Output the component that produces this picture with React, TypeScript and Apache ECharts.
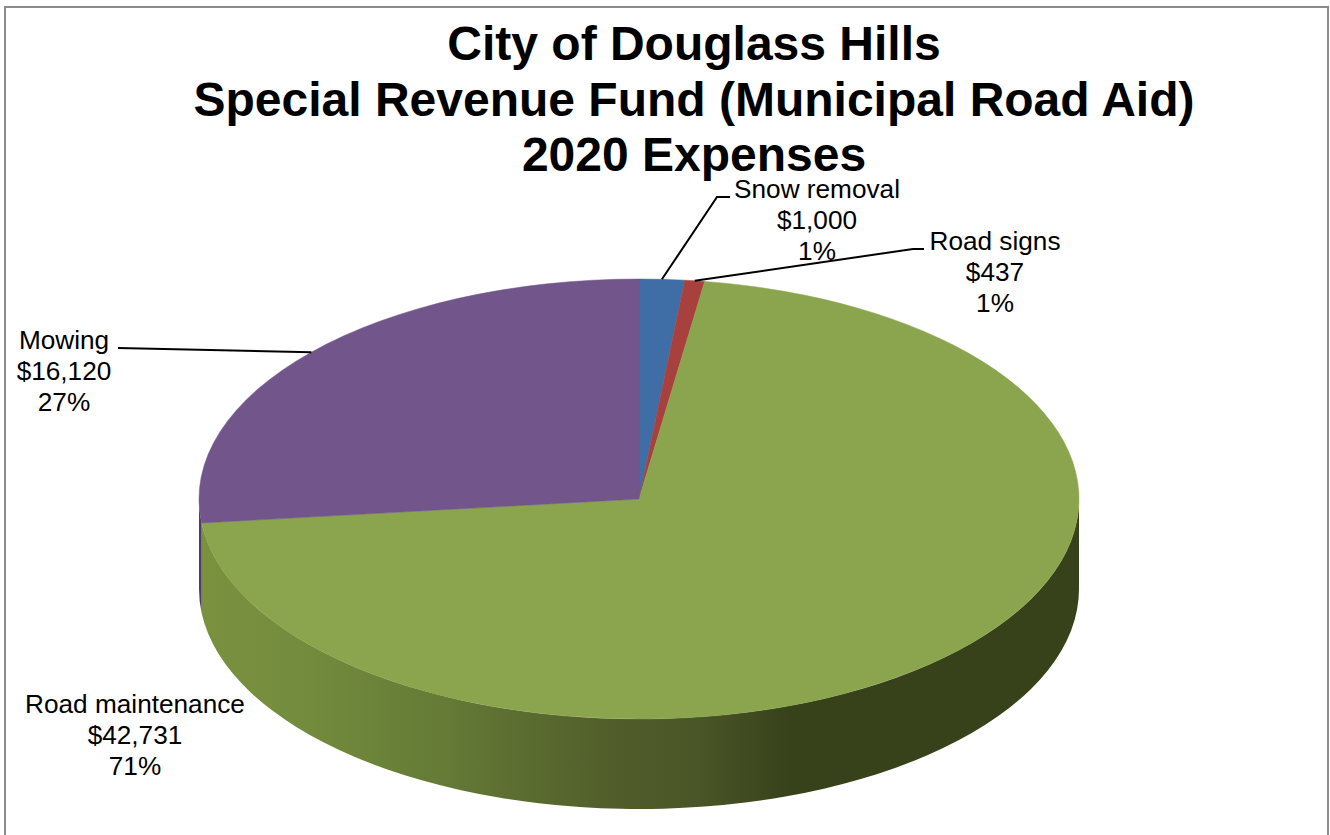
import React, { useEffect, useRef } from "react";
import * as echarts from "echarts";

const titleLines = ["City of Douglass Hills", "Special Revenue Fund (Municipal Road Aid)", "2020 Expenses"];
const categories = ["Snow removal", "Road signs", "Road maintenance", "Mowing"];
const amounts = [1000, 437, 42731, 16120];
const amountLabels = ["$1,000", "$437", "$42,731", "$16,120"];
const percentLabels = ["1%", "1%", "71%", "27%"];

const topColors = ["#3f6ea6", "#a8403d", "#8aa54d", "#71558b"];
const sideColors = ["#2f5280", "#7d2f2d", "#6f8a3d", "#4f3b66"];

// layout of the tilted pie
const CX = 639;
const CY = 499;
const RX = 440;
const RY = 220;
const DEPTH = 90;
// label anchor (text centre x, first line centre y) and leader-line waypoints, per category
const labelX = [817, 995, 135, 64];
const labelY = [188, 240, 703, 339];
const leaderWay: number[][][] = [
  [[717, 197], [730, 197]],
  [[913, 249], [924, 249]],
  [],
  [[118, 348]],
];

const total = amounts.reduce((a, b) => a + b, 0);
const pt = (deg: number, dy = 0): [number, number] => {
  const r = (deg * Math.PI) / 180;
  return [CX + RX * Math.sin(r), CY - RY * Math.cos(r) + dy];
};
const startAngle = (i: number) => (amounts.slice(0, i).reduce((a, b) => a + b, 0) / total) * 360;

const arcTo = (a: number, b: number, dy: number, sweep: number) => {
  const [x, y] = pt(b, dy);
  return `A ${RX} ${RY} 0 ${Math.abs(b - a) > 180 ? 1 : 0} ${sweep} ${x} ${y}`;
};

const sidePath = (a0: number, a1: number) => {
  const a = Math.max(a0, 90);
  const b = Math.min(a1, 270);
  if (b <= a) return null;
  const p0 = pt(a);
  const p1 = pt(b, DEPTH);
  return `M ${p0[0]} ${p0[1]} ${arcTo(a, b, 0, 1)} L ${p1[0]} ${p1[1]} ${arcTo(b, a, DEPTH, 0)} Z`;
};

const topPath = (a0: number, a1: number) => {
  const p0 = pt(a0);
  return `M ${CX} ${CY} L ${p0[0]} ${p0[1]} ${arcTo(a0, a1, 0, 1)} Z`;
};

const sideGradient = new echarts.graphic.LinearGradient(0, 0, 1, 0, [
  { offset: 0, color: "#7a923f" },
  { offset: 0.12, color: "#738b3d" },
  { offset: 0.28, color: "#647a36" },
  { offset: 0.455, color: "#525f2b" },
  { offset: 0.57, color: "#495526" },
  { offset: 0.67, color: "#37421b" },
  { offset: 1, color: "#37421b" },
]);

export default function App() {
  const ref = useRef<HTMLDivElement>(null);
  useEffect(() => {
    const chart = echarts.init(ref.current!, undefined, { renderer: "svg" });
    const seriesData = categories.map((name, i) => ({ name, value: amounts[i] }));
    chart.setOption({
      animation: false,
      backgroundColor: "#ffffff",
      title: {
        text: titleLines.join("\n"),
        left: 689,
        top: 11,
        textAlign: "center",
        textStyle: {
          fontFamily: "Liberation Sans",
          fontSize: 48,
          fontWeight: "bold",
          color: "#000000",
          lineHeight: 55.5,
        },
      },
      graphic: [
        {
          type: "polyline",
          shape: { points: [[5, 835], [5, 7], [1328, 7], [1328, 835]] },
          style: { stroke: "#8c8c8c", lineWidth: 2, fill: "none" },
          silent: true,
        },
      ],
      series: [
        {
          type: "custom",
          coordinateSystem: "none",
          silent: true,
          z: 2,
          data: seriesData,
          renderItem: (params: any, api: any) => {
            const i = params.dataIndex;
            const a0 = startAngle(i);
            const a1 = a0 + (api.value(0) / total) * 360;
            const d = sidePath(a0, a1);
            if (!d) return { type: "group", children: [] };
            return {
              type: "path",
              shape: { pathData: d },
              style: { fill: i === 2 ? sideGradient : sideColors[i], stroke: null },
            };
          },
        },
        {
          type: "custom",
          coordinateSystem: "none",
          silent: true,
          z: 3,
          data: seriesData,
          renderItem: (params: any, api: any) => {
            const i = params.dataIndex;
            const a0 = startAngle(i);
            const a1 = a0 + (api.value(0) / total) * 360;
            return {
              type: "path",
              shape: { pathData: topPath(a0, a1) },
              style: { fill: topColors[i], stroke: topColors[i], lineWidth: 0.5 },
            };
          },
        },
        {
          type: "custom",
          coordinateSystem: "none",
          silent: true,
          z: 4,
          data: seriesData,
          renderItem: (params: any, api: any) => {
            const i = params.dataIndex;
            const a0 = startAngle(i);
            const mid = a0 + (api.value(0) / total) * 180;
            const children: any[] = [
              {
                type: "text",
                style: {
                  x: labelX[i],
                  y: labelY[i] - 15,
                  text: [categories[i], amountLabels[i], percentLabels[i]].join("\n"),
                  textAlign: "center",
                  textVerticalAlign: "top",
                  fontFamily: "Liberation Sans",
                  fontSize: 26.2,
                  lineHeight: 31,
                  fill: "#000000",
                },
              },
            ];
            if (leaderWay[i].length) {
              children.push({
                type: "polyline",
                shape: { points: [pt(mid), ...leaderWay[i]] },
                style: { stroke: "#000000", lineWidth: 2, fill: "none" },
              });
            }
            return { type: "group", children };
          },
        },
      ],
    });
    return () => chart.dispose();
  }, []);
  return <div ref={ref} style={{ position: "fixed", left: 0, top: 0, width: 1330, height: 835 }} />;
}
